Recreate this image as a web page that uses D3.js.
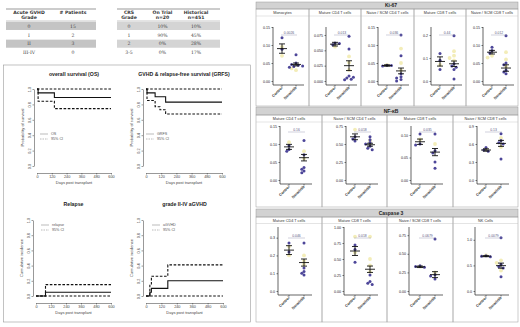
<!DOCTYPE html>
<html>
<head>
<meta charset="utf-8">
<script src="https://cdn.jsdelivr.net/npm/d3@7"></script>
<style>
body { margin: 0; background: #fff; }
svg { display: block; font-family: Arial, "Liberation Sans", sans-serif; }
</style>
</head>
<body>
<svg id="chart" width="520" height="327"></svg>
<script>
// ---- tables
const gvhdHeader = [['Acute GVHD', 'Grade'], ['# Patients']];
const gvhdGrades = ['0', 'I', 'II', 'III-IV'];
const gvhdPatients = ['15', '2', '3', '0'];
const crsHeader = [['CRS', 'Grade'], ['On Trial', 'n=20'], ['Historical', 'n=451']];
const crsGrades = ['0', '1', '2', '3-5'];
const crsOnTrial = ['10%', '90%', '0%', '0%'];
const crsHistorical = ['10%', '45%', '28%', '17%'];

// ---- survival / incidence curves (step functions)
const dayTicks = [0, 120, 240, 360, 480, 600];
const probTicks = [0, 0.2, 0.4, 0.6, 0.8, 1.0];
const osDays = [0, 9, 141, 600];
const osEst = [1, 0.95, 0.89, 0.89];
const osLow = [1, 0.84, 0.745, 0.745];
const osHigh = [1, 1, 1, 1];
const grfsDays = [0, 8, 72, 110, 155, 600];
const grfsEst = [1, 0.95, 0.90, 0.90, 0.83, 0.83];
const grfsLow = [1, 0.85, 0.77, 0.73, 0.675, 0.675];
const grfsHigh = [1, 1, 1, 1, 1, 1];
const relDays = [0, 76, 600];
const relEst = [0, 0.05, 0.05];
const relLow = [0, 0, 0];
const relHigh = [0, 0.15, 0.15];
const agvhdDays = [0, 30, 42, 170, 600];
const agvhdEst = [0, 0.05, 0.10, 0.20, 0.20];
const agvhdLow = [0, 0, 0, 0, 0];
const agvhdHigh = [0, 0.15, 0.26, 0.41, 0.41];

// ---- Ki-67
const ki67Titles = ['Monocytes', 'Mature CD4 T cells', 'Naive / SCM CD4 T cells', 'Mature CD8 T cells', 'Naive / SCM CD8 T cells'];
const ki67P = ['0.0026', '0.013', '0.036', '0.44', '0.012'];
const ki67Ticks = [[0, 0.05, 0.10, 0.15], [0, 0.025, 0.05, 0.075], [0, 0.05, 0.10, 0.15], [0, 0.1, 0.2], [0, 0.05, 0.10, 0.15]];
const ki67Dec = [2, 3, 2, 1, 2];
const ki67Max = [0.15, 0.088, 0.15, 0.235, 0.15];
const ki67Ctrl = [[0.12, 0.088], [0.062, 0.059, 0.061], [0.044, 0.042, 0.043], [0.12, 0.05, 0.09], [0.094, 0.085, 0.078]];
const ki67CtrlPale = [[0.07, 0.095], [0.056], [0.045], [0.07], [0.07, 0.065]];
const ki67Ner = [[0.073, 0.05, 0.046, 0.044, 0.042, 0.04, 0.038], [0.073, 0.052, 0.008, 0.005, 0.003, 0.006, 0.002], [0.128, 0.07, 0.02, 0.012, 0.008, 0.004, 0.0], [0.197, 0.075, 0.065, 0.05, 0.009, 0.06], [0.126, 0.05, 0.045, 0.03, 0.025, 0.02]];
const ki67NerPale = [[0.03, 0.035], [0.04, 0.03, 0.018], [0.09, 0.05, 0.03], [0.13, 0.11, 0.09, 0.1], [0.08, 0.06, 0.04]];
const ki67Mean = [[0.09, 0.046], [0.060, 0.025], [0.043, 0.028], [0.085, 0.075], [0.08, 0.036]];
const ki67Sem = [[0.013, 0.004], [0.003, 0.008], [0.002, 0.008], [0.02, 0.012], [0.005, 0.009]];

// ---- NF-kB
const nfTitles = ['Mature CD4 T cells', 'Naive / SCM CD4 T cells', 'Mature CD8 T cells', 'Naive / SCM CD8 T cells'];
const nfP = ['0.16', '0.018', '0.035', '0.13'];
const nfTicks = [[0, 0.05, 0.10, 0.15], [0, 0.25, 0.50, 0.75], [0, 0.05, 0.10], [0, 0.3, 0.6, 0.9]];
const nfDec = [2, 2, 2, 1];
const nfMax = [0.15, 0.75, 0.12, 0.9];
const nfCtrl = [[0.095, 0.085, 0.08], [0.6, 0.57, 0.54], [0.102, 0.08, 0.078], [0.54, 0.5, 0.48]];
const nfCtrlPale = [[0.105], [0.7], [0.09], [0.52]];
const nfNer = [[0.11, 0.07, 0.035, 0.03, 0.025, 0.02], [0.6, 0.56, 0.52, 0.5, 0.47, 0.44, 0.42], [0.102, 0.065, 0.06, 0.04, 0.026], [0.77, 0.66, 0.62, 0.6, 0.35]];
const nfNerPale = [[0.08, 0.06], [0.55], [0.08], [0.7, 0.55]];
const nfMean = [[0.092, 0.062], [0.60, 0.49], [0.085, 0.062], [0.5, 0.61]];
const nfSem = [[0.007, 0.009], [0.04, 0.02], [0.006, 0.008], [0.02, 0.05]];

// ---- Caspase 3
const casTitles = ['Mature CD4 T cells', 'Mature CD8 T cells', 'Naive / SCM CD8 T cells', 'NK Cells'];
const casP = ['0.046', '0.018', '0.0679', '0.0079'];
const casTicks = [[0, 0.1, 0.2, 0.3], [0, 0.25, 0.50, 0.75, 1.00], [0, 0.25, 0.50, 0.75], [0, 0.5, 1.0]];
const casDec = [1, 2, 2, 1];
const casMax = [0.36, 1.0, 0.86, 1.25];
const casCtrl = [[0.27, 0.22], [0.72, 0.65, 0.45], [0.34, 0.33, 0.32], [0.69, 0.68, 0.67]];
const casCtrlPale = [[0.2, 0.25], [0.85, 0.6], [0.33], [0.7]];
const casNer = [[0.27, 0.13, 0.11, 0.1, 0.09], [0.25, 0.15, 0.12, 0.10], [0.70, 0.22, 0.2, 0.16], [1.04, 0.52, 0.48, 0.45, 0.28]];
const casNerPale = [[0.17, 0.15, 0.2], [0.85, 0.5, 0.4, 0.3], [0.25], [0.6, 0.55, 0.4]];
const casMean = [[0.23, 0.16], [0.625, 0.34], [0.325, 0.22], [0.68, 0.495]];
const casSem = [[0.025, 0.02], [0.07, 0.05], [0.01, 0.04], [0.01, 0.05]];

const groups = ['Control', 'Neratinib'];
const purple = '#4d4699';
const pale = '#f3edb8';
const border = '#9a9a9a';

const svg = d3.select('#chart');

// ================= tables =================
function drawTable(colRange, fillRange, headers, cols, fill) {
  const g = svg.append('g');
  const x = d3.scalePoint().domain(d3.range(cols.length)).range(colRange);
  const rowY = d3.scaleBand().domain(d3.range(4)).range([21.5, 57]);
  g.append('line').attr('x1', fillRange[0]).attr('x2', fillRange[1]).attr('y1', 9).attr('y2', 9)
    .attr('stroke', '#555').attr('stroke-width', 0.6);
  headers.forEach((h, i) => h.forEach((t, j) => {
    g.append('text').attr('x', x(i)).attr('y', 13.8 + j * 5).attr('text-anchor', 'middle')
      .attr('font-family', 'DejaVu Sans').attr('font-weight', 'bold').attr('font-size', 4.6)
      .attr('fill', '#333').text(t);
  }));
  g.append('line').attr('x1', fillRange[0]).attr('x2', fillRange[1]).attr('y1', 21).attr('y2', 21)
    .attr('stroke', '#777').attr('stroke-width', 0.4);
  d3.range(4).forEach(r => {
    if (r % 2 === 0) {
      g.append('rect').attr('x', fillRange[0]).attr('y', rowY(r) + 0.4)
        .attr('width', fillRange[1] - fillRange[0]).attr('height', rowY.bandwidth() - 0.8).attr('fill', fill);
    }
    cols.forEach((c, i) => {
      g.append('text').attr('x', x(i)).attr('y', rowY(r) + rowY.bandwidth() / 2 + 1.7)
        .attr('text-anchor', 'middle').attr('font-family', 'DejaVu Serif').attr('font-size', 4.6)
        .attr('fill', '#444').text(c[r]);
    });
  });
}
drawTable([29, 73], [6, 96], gvhdHeader, [gvhdGrades, gvhdPatients], '#c4c4c4');
drawTable([129, 196], [117, 220], crsHeader, [crsGrades, crsOnTrial, crsHistorical], '#d4d4d4');

// ================= KM / cumulative incidence =================
svg.append('rect').attr('x', 3.5).attr('y', 65).attr('width', 247).attr('height', 257)
  .attr('fill', 'none').attr('stroke', border).attr('stroke-width', 0.6);

const kmPanels = [
  {title: 'overall survival (OS)', ylab: 'Probability of survival', leg: 'OS', days: osDays, est: osEst, low: osLow, high: osHigh,
   xr: [37, 111], yr: [166, 89], axX: 34, axY: 173, titleY: 76, legX: 40, legY: 134},
  {title: 'GVHD & relapse-free survival (GRFS)', ylab: 'Probability of survival', leg: 'GRFS', days: grfsDays, est: grfsEst, low: grfsLow, high: grfsHigh,
   xr: [146, 222], yr: [166, 89], axX: 143, axY: 173, titleY: 76, legX: 146, legY: 134},
  {title: 'Relapse', ylab: 'Cumulative incidence', leg: 'relapse', days: relDays, est: relEst, low: relLow, high: relHigh,
   xr: [36, 111], yr: [296, 220], axX: 33, axY: 303, titleY: 206, legX: 41, legY: 225},
  {title: 'grade II-IV aGVHD', ylab: 'Cumulative incidence', leg: 'aGVHD', days: agvhdDays, est: agvhdEst, low: agvhdLow, high: agvhdHigh,
   xr: [146, 223], yr: [296, 220], axX: 143, axY: 303, titleY: 206, legX: 152, legY: 225}
];

kmPanels.forEach(p => {
  const g = svg.append('g');
  const x = d3.scaleLinear().domain([0, 600]).range(p.xr);
  const y = d3.scaleLinear().domain([0, 1]).range(p.yr);
  const step = d3.line().x(d => x(d[0])).y(d => y(d[1])).curve(d3.curveStepAfter);

  g.append('text').attr('x', (p.xr[0] + p.xr[1]) / 2).attr('y', p.titleY).attr('text-anchor', 'middle')
    .attr('font-size', 5.2).attr('font-weight', 'bold').attr('fill', '#222').text(p.title);

  const xa = g.append('g').attr('transform', `translate(0,${p.axY})`)
    .call(d3.axisBottom(x).tickValues(dayTicks).tickSize(1.5).tickSizeOuter(0).tickPadding(1));
  const ya = g.append('g').attr('transform', `translate(${p.axX},0)`)
    .call(d3.axisLeft(y).tickValues(probTicks).tickSize(1.5).tickSizeOuter(0).tickFormat(d3.format('.1f')));
  [xa, ya].forEach(a => {
    a.select('.domain').attr('stroke', '#333').attr('stroke-width', 0.5);
    a.selectAll('.tick line').attr('stroke', '#333').attr('stroke-width', 0.5);
    a.selectAll('text').attr('font-size', 3.8).attr('fill', '#444');
  });
  ya.selectAll('text').attr('x', 0).attr('y', -3.2).attr('dy', 0).attr('text-anchor', 'middle').attr('transform', 'rotate(-90)');

  g.append('text').attr('x', (p.xr[0] + p.xr[1]) / 2).attr('y', p.axY + 11).attr('text-anchor', 'middle')
    .attr('font-size', 4).attr('fill', '#444').text('Days post transplant');
  g.append('text').attr('transform', `translate(${p.axX - 10},${(p.yr[0] + p.yr[1]) / 2}) rotate(-90)`)
    .attr('text-anchor', 'middle').attr('font-size', 4).attr('fill', '#444').text(p.ylab);

  const series = [
    {v: p.est, dash: null},
    {v: p.low, dash: '2.6,1.6'},
    {v: p.high, dash: '2.6,1.6'}
  ];
  series.forEach(s => {
    g.append('path').datum(p.days.map((d, i) => [d, s.v[i]])).attr('d', step)
      .attr('fill', 'none').attr('stroke', '#111').attr('stroke-width', 1.1)
      .attr('stroke-dasharray', s.dash);
  });

  [p.leg, '95% CI'].forEach((t, i) => {
    const ly = p.legY + i * 5;
    g.append('line').attr('x1', p.legX).attr('x2', p.legX + 8).attr('y1', ly).attr('y2', ly)
      .attr('stroke', '#777').attr('stroke-width', 0.5).attr('stroke-dasharray', i ? '1.5,1' : null);
    g.append('text').attr('x', p.legX + 11).attr('y', ly + 1.3).attr('font-size', 3.7).attr('fill', '#555').text(t);
  });
});

// ================= flow panels =================
const rightX = [256, 518];

const sections = [
  {name: 'Ki-67', h: [2, 9], bottom: 106, titleY: 14, zeroY: 81, topY: 27, pY: 35, axisOff: 17, grp: [26, 40],
   cols: [256, 309, 361, 414, 466, 518], titles: ki67Titles, p: ki67P, ticks: ki67Ticks, dec: ki67Dec, max: ki67Max,
   ctrl: ki67Ctrl, ctrlPale: ki67CtrlPale, ner: ki67Ner, nerPale: ki67NerPale, mean: ki67Mean, sem: ki67Sem},
  {name: 'NF-\u03baB', h: [107, 115], bottom: 207, titleY: 120, zeroY: 180, topY: 126, pY: 132, axisOff: 24, grp: [33, 48],
   cols: [256, 322, 387, 453, 518], titles: nfTitles, p: nfP, ticks: nfTicks, dec: nfDec, max: nfMax,
   ctrl: nfCtrl, ctrlPale: nfCtrlPale, ner: nfNer, nerPale: nfNerPale, mean: nfMean, sem: nfSem},
  {name: 'Caspase 3', h: [209, 217], bottom: 322, titleY: 221.5, zeroY: 291, topY: 227, pY: 238, axisOff: 22, grp: [33, 48],
   cols: [256, 322, 387, 453, 518], titles: casTitles, p: casP, ticks: casTicks, dec: casDec, max: casMax,
   ctrl: casCtrl, ctrlPale: casCtrlPale, ner: casNer, nerPale: casNerPale, mean: casMean, sem: casSem}
];

// simple beeswarm offsets so overlapping dots spread sideways
function dodge(vals, y, r) {
  const placed = [];
  const offs = [0, -2.2, 2.2, -4.4, 4.4, -6.6, 6.6];
  return vals.map(v => {
    const py = y(v);
    const o = offs.find(o => placed.every(p => Math.hypot(p[0] - o, p[1] - py) >= r * 2 - 0.3)) ?? 0;
    placed.push([o, py]);
    return [o, py];
  });
}

sections.forEach(s => {
  svg.append('rect').attr('x', rightX[0]).attr('y', s.h[0]).attr('width', rightX[1] - rightX[0]).attr('height', s.h[1] - s.h[0])
    .attr('fill', '#d2d2d2').attr('stroke', border).attr('stroke-width', 0.5);
  svg.append('text').attr('x', 391).attr('y', (s.h[0] + s.h[1]) / 2 + 1.8).attr('text-anchor', 'middle')
    .attr('font-size', 5).attr('font-weight', 'bold').attr('fill', '#222').text(s.name);

  s.titles.forEach((title, i) => {
    const x0 = s.cols[i], x1 = s.cols[i + 1];
    const g = svg.append('g');
    g.append('rect').attr('x', x0).attr('y', s.h[1]).attr('width', x1 - x0).attr('height', s.bottom - s.h[1])
      .attr('fill', 'none').attr('stroke', border).attr('stroke-width', 0.5);
    g.append('text').attr('x', (x0 + x1) / 2).attr('y', s.titleY).attr('text-anchor', 'middle')
      .attr('font-size', 3.8).attr('fill', '#333').text(title);
    g.append('line').attr('x1', x0).attr('x2', x1).attr('y1', s.titleY + 2).attr('y2', s.titleY + 2)
      .attr('stroke', '#bbb').attr('stroke-width', 0.4);

    const y = d3.scaleLinear().domain([0, s.max[i]]).range([s.zeroY, s.topY]);
    const x = d3.scalePoint().domain(groups).range([x0 + s.grp[0], x0 + s.grp[1]]);
    const ax = x0 + s.axisOff;
    const baseY = s.zeroY + 4;

    // y axis
    const ya = g.append('g').attr('transform', `translate(${ax},0)`)
      .call(d3.axisLeft(y).tickValues(s.ticks[i]).tickSize(1.5).tickPadding(1.5)
        .tickFormat(d3.format(`.${s.dec[i]}f`)));
    ya.select('.domain').remove();
    ya.selectAll('.tick line').attr('stroke', '#222').attr('stroke-width', 0.6);
    ya.selectAll('text').attr('font-size', 3.6).attr('fill', '#222');
    g.append('line').attr('x1', ax).attr('x2', ax).attr('y1', baseY).attr('y2', y(s.max[i]))
      .attr('stroke', '#222').attr('stroke-width', 0.7);

    // x axis
    g.append('line').attr('x1', ax).attr('x2', x('Neratinib') + 8).attr('y1', baseY).attr('y2', baseY)
      .attr('stroke', '#222').attr('stroke-width', 0.7);
    groups.forEach(k => {
      g.append('line').attr('x1', x(k)).attr('x2', x(k)).attr('y1', baseY).attr('y2', baseY + 1.5)
        .attr('stroke', '#222').attr('stroke-width', 0.6);
      g.append('text').attr('transform', `translate(${x(k) + 1},${baseY + 3}) rotate(-45)`)
        .attr('text-anchor', 'end').attr('font-size', 3.8).attr('font-weight', 'bold').attr('fill', '#333').text(k);
    });

    // dots
    const sets = [
      {k: 'Control', v: s.ctrlPale[i], c: pale, r: 1.9},
      {k: 'Neratinib', v: s.nerPale[i], c: pale, r: 1.9},
      {k: 'Control', v: s.ctrl[i], c: purple, r: 1.5},
      {k: 'Neratinib', v: s.ner[i], c: purple, r: 1.5}
    ];
    sets.forEach(set => {
      const pos = dodge(set.v, y, set.r);
      g.selectAll(null).data(pos).enter().append('circle')
        .attr('cx', d => x(set.k) + d[0]).attr('cy', d => d[1]).attr('r', set.r).attr('fill', set.c);
    });

    // mean +/- SEM
    groups.forEach((k, j) => {
      const m = s.mean[i][j], e = s.sem[i][j], cx = x(k);
      const eb = [[cx - 5, y(m), cx + 5, y(m)], [cx - 3, y(m + e), cx + 3, y(m + e)],
                  [cx - 3, y(m - e), cx + 3, y(m - e)], [cx, y(m + e), cx, y(m - e)]];
      eb.forEach(l => g.append('line').attr('x1', l[0]).attr('y1', l[1]).attr('x2', l[2]).attr('y2', l[3])
        .attr('stroke', '#111').attr('stroke-width', 0.9));
    });

    // p value
    g.append('line').attr('x1', x('Control') - 1).attr('x2', x('Neratinib') + 1).attr('y1', s.pY).attr('y2', s.pY)
      .attr('stroke', '#8a8aa8').attr('stroke-width', 0.4);
    g.append('text').attr('x', (x('Control') + x('Neratinib')) / 2).attr('y', s.pY - 1).attr('text-anchor', 'middle')
      .attr('font-size', 3.4).attr('fill', '#5a5a80').text(s.p[i]);
  });
});
</script>
</body>
</html>
